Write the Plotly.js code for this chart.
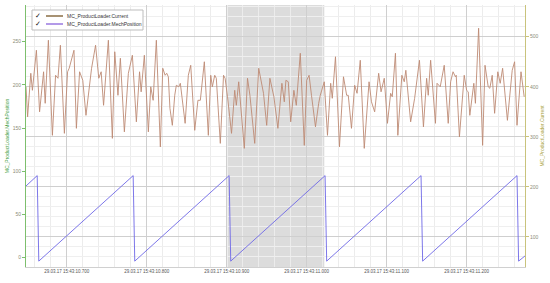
<!DOCTYPE html>
<html>
<head>
<meta charset="utf-8">
<script src="https://cdn.plot.ly/plotly-3.0.1.min.js"></script>
<style>
  html, body { margin: 0; padding: 0; background: #fff; }
  #chart { width: 550px; height: 283px; }
</style>
</head>
<body>
<div id="chart"></div>
<script>
// times are ms after 29.03.17 15:43:10.000
var seriesNames = ["MC_ProductLoader.Current", "MC_ProductLoader.MechPosition"];

var currentTimes = [
  649, 651, 655, 657, 662, 666, 671, 673, 677, 682, 686, 689, 692, 697, 701, 703, 709, 712, 716, 718,
  720, 724, 727, 731, 736, 740, 743, 746, 752, 757, 760, 764, 767, 772, 777, 782, 787, 791, 793, 797,
  802, 805, 808, 812, 817, 820, 823, 825, 827, 829, 832, 835, 837, 840, 842, 845, 848, 852, 855, 860,
  864, 867, 872, 877, 880, 882, 885, 887, 892, 896, 898, 901, 906, 910, 912, 915, 922, 926, 929, 935,
  940, 946, 950, 954, 959, 964, 969, 972, 974, 977, 980, 984, 987, 992, 997, 1000, 1003, 1006, 1011, 1015,
  1017, 1022, 1026, 1030, 1032, 1036, 1041, 1046, 1050, 1052, 1056, 1060, 1063, 1067, 1072, 1078, 1081, 1085, 1090, 1093,
  1097, 1101, 1105, 1107, 1111, 1114, 1119, 1122, 1124, 1130, 1135, 1141, 1146, 1150, 1152, 1155, 1161, 1163, 1167, 1172,
  1177, 1180, 1183, 1186, 1187, 1191, 1197, 1200, 1202, 1204, 1209, 1211, 1215, 1220, 1223, 1227, 1229, 1232, 1235, 1239,
  1242, 1245, 1251, 1257, 1260, 1263, 1268, 1272
];
var currentValues = [
  400, 340, 427, 393, 473, 350, 430, 367, 493, 303, 423, 417, 483, 307, 430, 437, 473, 317, 430, 423,
  413, 343, 383, 437, 483, 417, 430, 363, 493, 297, 470, 383, 457, 310, 427, 463, 330, 430, 390, 463,
  310, 400, 373, 493, 280, 437, 423, 427, 420, 357, 323, 383, 403, 400, 407, 363, 327, 423, 443, 313,
  373, 373, 450, 303, 423, 400, 423, 417, 287, 423, 417, 380, 307, 393, 363, 410, 277, 417, 383, 287,
  437, 387, 323, 417, 380, 317, 407, 370, 413, 410, 330, 393, 363, 467, 283, 413, 423, 383, 320, 367,
  383, 410, 303, 407, 377, 460, 280, 420, 383, 383, 317, 403, 387, 453, 277, 410, 370, 350, 427, 390,
  417, 327, 387, 380, 467, 303, 423, 410, 433, 330, 377, 453, 320, 417, 383, 453, 327, 407, 400, 443,
  327, 410, 430, 420, 423, 300, 423, 393, 390, 343, 407, 367, 517, 283, 443, 400, 397, 423, 347, 430,
  407, 437, 333, 433, 450, 323, 430, 380
];

var positionTimes = [649, 663, 665, 783, 785, 903, 905, 1023, 1025, 1143, 1145, 1263, 1265, 1273];
var positionValues = [83, 95, -4, 95, -4, 95, -4, 95, -4, 95, -4, 95, -4, 2];

var markedRange = [901, 1022];
var viewRange = [649, 1273];

function stamp(ms) {
  return "2017-03-29 15:43:" + (10 + ms / 1000).toFixed(3);
}

var currentColor = "#bd8a74";
var positionColor = "#6e68e6";
var tickFont = { family: "Liberation Sans, Arial, sans-serif", size: 5, color: "#8c8c78" };

var traces = [
  {
    x: currentTimes.map(stamp),
    y: currentValues,
    name: seriesNames[0],
    yaxis: "y2",
    mode: "lines",
    line: { color: currentColor, width: 0.9 },
  },
  {
    x: positionTimes.map(stamp),
    y: positionValues,
    name: seriesNames[1],
    yaxis: "y",
    mode: "lines",
    line: { color: positionColor, width: 0.9 },
  },
];

// hand made legend: box, checkmarks, sample lines, names
var legendShapes = [
  {
    type: "rect", layer: "above",
    xref: "paper", xsizemode: "pixel", xanchor: 0, x0: 6, x1: 117,
    yref: "paper", ysizemode: "pixel", yanchor: 1, y0: -5, y1: -25,
    fillcolor: "#ffffff", line: { color: "#bdbdbd", width: 1 },
  },
];
var legendNotes = [];
["#8a6e44", "#9a78e0"].forEach(function (c, i) {
  var dy = -11 - 8 * i;
  legendShapes.push({
    type: "line", layer: "above",
    xref: "paper", xsizemode: "pixel", xanchor: 0, x0: 20, x1: 37,
    yref: "paper", ysizemode: "pixel", yanchor: 1, y0: dy, y1: dy,
    line: { color: c, width: 1.5 },
  });
  legendNotes.push({
    xref: "paper", yref: "paper", x: 0, y: 1, xshift: 12, yshift: dy,
    text: "<b>\u2713</b>", showarrow: false, xanchor: "center", yanchor: "middle",
    font: { family: "DejaVu Sans", size: 7, color: "#111111" },
  });
  legendNotes.push({
    xref: "paper", yref: "paper", x: 0, y: 1, xshift: 39, yshift: dy,
    text: seriesNames[i], showarrow: false, xanchor: "left", yanchor: "middle",
    font: { family: "Liberation Sans, Arial, sans-serif", size: 5, color: "#333" },
  });
});

var layout = {
  width: 550,
  height: 283,
  margin: { l: 26, r: 25, t: 5, b: 16 },
  paper_bgcolor: "#ffffff",
  plot_bgcolor: "#ffffff",
  showlegend: false,
  xaxis: {
    type: "date",
    range: [stamp(viewRange[0]), stamp(viewRange[1])],
    tick0: stamp(700),
    dtick: 100,
    tickformat: "%d.%m.%y %H:%M:%S.%L",
    tickfont: { family: "Liberation Sans, Arial, sans-serif", size: 4.5, color: "#555" },
    showgrid: true,
    gridcolor: "#cfcfcf",
    minor: { dtick: 20, showgrid: true, gridcolor: "#ececec" },
    showline: true,
    linecolor: "#d0d0d0",
    zeroline: false,
    ticks: "",
  },
  yaxis: {
    range: [-10.8, 292.5],
    tick0: 0,
    dtick: 50,
    showgrid: false,
    zeroline: false,
    showline: true,
    linecolor: "#7dbf6d",
    ticks: "outside",
    ticklen: 3,
    tickcolor: "#7dbf6d",
    tickfont: tickFont,
    title: {
      text: seriesNames[1],
      standoff: 2,
      font: { family: "Liberation Sans, Arial, sans-serif", size: 5, color: "#43a043" },
    },
  },
  yaxis2: {
    overlaying: "y",
    side: "right",
    range: [40, 563.4],
    tick0: 0,
    dtick: 100,
    showgrid: true,
    gridcolor: "#cfcfcf",
    minor: { dtick: 20, showgrid: true, gridcolor: "#efefef" },
    zeroline: false,
    showline: true,
    linecolor: "#c9c37c",
    ticks: "outside",
    ticklen: 3,
    tickcolor: "#c9c37c",
    tickfont: tickFont,
    title: {
      text: seriesNames[0],
      standoff: 0,
      font: { family: "Liberation Sans, Arial, sans-serif", size: 5, color: "#a9a23c" },
    },
  },
  shapes: [
    {
      type: "rect", layer: "below",
      xref: "x", yref: "paper",
      x0: stamp(markedRange[0]), x1: stamp(markedRange[1]), y0: 0, y1: 1,
      fillcolor: "#dcdcdc", line: { width: 0 },
    },
  ].concat(legendShapes),
  annotations: legendNotes,
};

Plotly.newPlot("chart", traces, layout, { displayModeBar: false, staticPlot: true });
</script>
</body>
</html>
